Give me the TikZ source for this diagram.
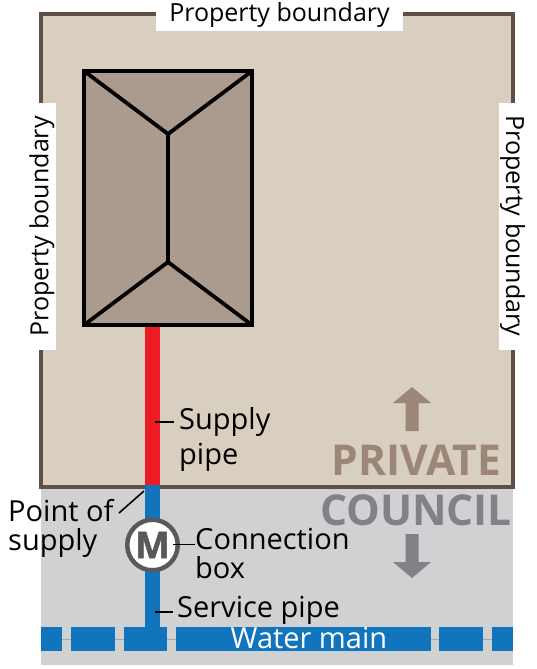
\documentclass[tikz,border=0pt]{standalone}
\usepackage{fontspec}
\setmainfont{Open Sans}
\newfontfamily\meterfont[BoldFeatures={FakeBold=1.5}]{Open Sans}
\definecolor{landfill}{HTML}{D8CFC0}
\definecolor{landline}{HTML}{5F4F47}
\definecolor{councilfill}{HTML}{D0D1D3}
\definecolor{housefill}{HTML}{AB9A8E}
\definecolor{privatetxt}{HTML}{9B8678}
\definecolor{counciltxt}{HTML}{808285}
\definecolor{mainblue}{HTML}{1075BC}
\definecolor{supplyred}{HTML}{ED1C24}
\definecolor{meterline}{HTML}{58595B}
\begin{document}
\begin{tikzpicture}[x=1pt,y=-1pt,
  every node/.style={font=\fontsize{29}{34}\selectfont,inner sep=0pt},
  label/.style={align=left,anchor=west,text=black},
  boundary/.style={font=\fontsize{25}{33}\selectfont,fill=white,minimum width=247},
  heading/.style={font=\fontsize{42.5}{42}\selectfont\bfseries,anchor=base},
  leader/.style={draw=black,line width=1.6pt},
  roof/.style={draw=black,line width=3.8pt,line join=miter},
  pipe/.style={line width=15pt}]
\useasboundingbox (0,0) rectangle (537,669);
% ground
\fill[councilfill] (41,487) rectangle (513,665);
\draw[landline,fill=landfill,line width=4.2pt] (41,14) rectangle (513,487);
% boundary labels
\node[boundary,minimum height=31] (north) at (279.5,15.5) {Property boundary};
\node[boundary,minimum height=28,rotate=90] (west) at (42,226.5) {Property boundary};
\node[boundary,minimum height=27,rotate=-90] (east) at (512.5,226) {Property boundary};
% house
\draw[roof,fill=housefill] (84,71) rectangle (252,325);
\coordinate (ridgetop) at (168,134);
\coordinate (ridgebot) at (168,262);
\draw[roof] (84,71) -- (ridgetop) -- (252,71);
\draw[roof] (ridgetop) -- (ridgebot);
\draw[roof] (84,325) -- (ridgebot) -- (252,325);
% pipes
\draw[pipe,supplyred] (152.5,327) -- (152.5,485);
\draw[pipe,mainblue] (152.5,485) -- (152.5,630);
% water main
\draw[gray!70,line width=0.8pt] (41,639) -- (513,639);
\fill[mainblue] (41,627) rectangle (62,651);
\fill[mainblue] (71,627) rectangle (115,651);
\fill[mainblue] (124,627) rectangle (167,651);
\fill[mainblue] (176,627) rectangle (431,651);
\fill[mainblue] (439,627) rectangle (483,651);
\fill[mainblue] (492,627) rectangle (513,651);
\node[text=white,anchor=base] (main) at (309,648) {Water main};
% meter
\node[circle,draw=meterline,fill=white,line width=4.5pt,minimum size=50.5,
  font=\fontsize{37}{37}\selectfont\meterfont\bfseries,text=meterline] (meter) at (152.5,545) {M};
% labels
\node[label] (supply) at (179,439) {Supply\\[1pt]pipe};
\node[label] (point) at (8,528) {Point of\\[-5pt]supply};
\node[label] (conn) at (195,553) {Connection\\[-5pt]box};
\node[label,anchor=base west] (service) at (177,617) {Service pipe};
\coordinate (supplyend) at (155,422);
\coordinate (pointend) at (144,491);
\coordinate (pointstart) at (119,513);
\coordinate (metermark) at (173,544.5);
\coordinate (serviceend) at (155,612);
\draw[leader] (supplyend) -- (174,422);
\draw[leader] (pointstart) -- (pointend);
\draw[leader] (metermark) -- (195,544.5);
\draw[leader] (serviceend) -- (173,612);
% private and council
\node[heading,text=privatetxt] (private) at (416.5,475) {PRIVATE};
\node[heading,text=counciltxt] (council) at (416,525) {COUNCIL};
\fill[privatetxt] (412,387) -- (431,403) -- (418.5,403) -- (418.5,431) -- (405.5,431) -- (405.5,403) -- (393,403) -- cycle;
\fill[counciltxt] (412,578) -- (431,562) -- (418.5,562) -- (418.5,534) -- (405.5,534) -- (405.5,562) -- (393,562) -- cycle;
\end{tikzpicture}
\end{document}
